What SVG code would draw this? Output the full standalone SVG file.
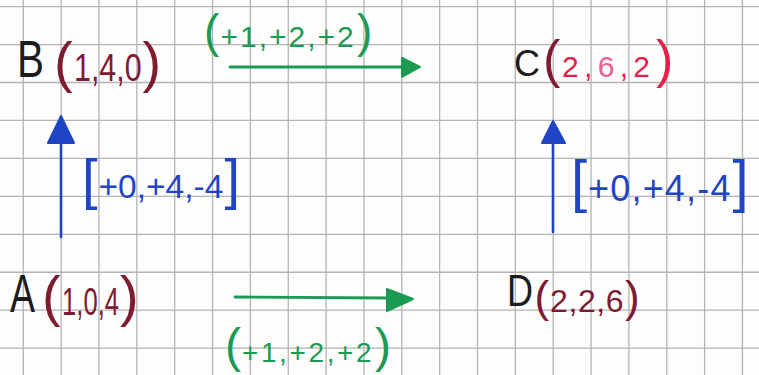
<svg xmlns="http://www.w3.org/2000/svg" width="759" height="375" viewBox="0 0 759 375">
<style>
text{font-family:"Liberation Sans","DejaVu Sans",sans-serif;}
.lbl{fill:#1c1c1c;}
.tup{fill:#7f1b30;}
.red{fill:#e42049;}
.pink{fill:#ea5f96;}
.grn{fill:#1b9a52;}
.blu{fill:#1f45c4;}
.grid{stroke:#b4b4b4;stroke-width:1.3;fill:none;}
.gline{stroke:#1b9a52;stroke-width:2.8;fill:none;stroke-linecap:round;}
.bline{stroke:#1f45c4;stroke-width:2.6;fill:none;stroke-linecap:round;}
.ghead{fill:#1b9a52;stroke:#1b9a52;stroke-width:2;stroke-linejoin:round;}
.bhead{fill:#1f45c4;stroke:#1f45c4;stroke-width:2;stroke-linejoin:round;}
</style>
<rect width="759" height="375" fill="#fdfdfd"/>
<path class="grid" d="M23.3 0V375M61.15 0V375M99 0V375M136.85 0V375M174.7 0V375M212.55 0V375M250.4 0V375M288.25 0V375M326.1 0V375M363.95 0V375M401.8 0V375M439.65 0V375M477.5 0V375M515.35 0V375M553.2 0V375M591.05 0V375M628.9 0V375M666.75 0V375M704.6 0V375M742.45 0V375M0 6.6H759M0 44.55H759M0 82.5H759M0 120.45H759M0 158.4H759M0 196.35H759M0 234.3H759M0 272.25H759M0 310.2H759M0 348.15H759"/>

<g id="connectors">
  <g id="edge-B-C">
    <path class="gline" d="M230 67L404 67"/>
    <polygon class="ghead" points="420,67 402,58 402,77"/>
  </g>
  <g id="edge-A-D">
    <path class="gline" d="M235 297L390 298"/>
    <polygon class="ghead" points="413,299 387,289 387,311"/>
  </g>
  <g id="edge-A-B">
    <path class="bline" d="M61 237L61 140"/>
    <polygon class="bhead" points="61,116 48,143 74,143"/>
  </g>
  <g id="edge-D-C">
    <path class="bline" d="M553 232L553 140"/>
    <polygon class="bhead" points="553,121 542,143 565,143"/>
  </g>
</g>

<g id="edge-labels">
  <g id="label-B-C" class="grn">
    <text x="204" y="47" font-size="46">(</text>
    <text x="220.5" y="47" font-size="30" letter-spacing="2">+1,+2,+2</text>
    <text x="357" y="47" font-size="46">)</text>
  </g>
  <g id="label-A-D" class="grn">
    <text x="225" y="362" font-size="48">(</text>
    <text x="242" y="362" font-size="28" letter-spacing="2.6">+1,+2,+2</text>
    <text x="375" y="362" font-size="48">)</text>
  </g>
  <g id="label-A-B" class="blu">
    <text x="82" y="198" font-size="56">[</text>
    <text x="98.5" y="198" font-size="33.5">+0,+4,-4</text>
    <text x="224.5" y="198" font-size="56">]</text>
  </g>
  <g id="label-D-C" class="blu">
    <text x="571" y="201" font-size="58">[</text>
    <text x="588" y="201" font-size="36" letter-spacing="1.2">+0,+4,-4</text>
    <text x="732.5" y="201" font-size="58">]</text>
  </g>
</g>

<g id="node-B">
  <text class="lbl" transform="translate(17,77) scale(0.778,1)" font-size="52">B</text>
  <text class="tup" x="54" y="81" font-size="56">(</text>
  <text class="tup" transform="translate(74,81) scale(0.8,1)" font-size="38">1,4,0</text>
  <text class="tup" x="142.5" y="81" font-size="56">)</text>
</g>

<g id="node-C">
  <text class="lbl" x="514" y="76" font-size="36">C</text>
  <text class="tup" x="543" y="77" font-size="52">(</text>
  <text x="562" y="77" font-size="30" letter-spacing="5.3"><tspan class="red">2,</tspan><tspan class="pink">6</tspan><tspan class="red">,2</tspan></text>
  <text class="red" x="656" y="77" font-size="52">)</text>
</g>

<g id="node-A">
  <text class="lbl" transform="translate(10,312) scale(0.694,1)" font-size="54">A</text>
  <text class="tup" x="42" y="315" font-size="56">(</text>
  <text class="tup" transform="translate(62,315) scale(0.675,1)" font-size="38">1,0,4</text>
  <text class="tup" x="120" y="315" font-size="56">)</text>
</g>

<g id="node-D">
  <text class="lbl" transform="translate(507,306) scale(0.8,1)" font-size="45">D</text>
  <text class="tup" x="534.5" y="312" font-size="44">(</text>
  <text class="tup" x="550" y="312" font-size="32" letter-spacing="0.6">2,2,6</text>
  <text class="tup" x="625" y="312" font-size="44">)</text>
</g>
</svg>
